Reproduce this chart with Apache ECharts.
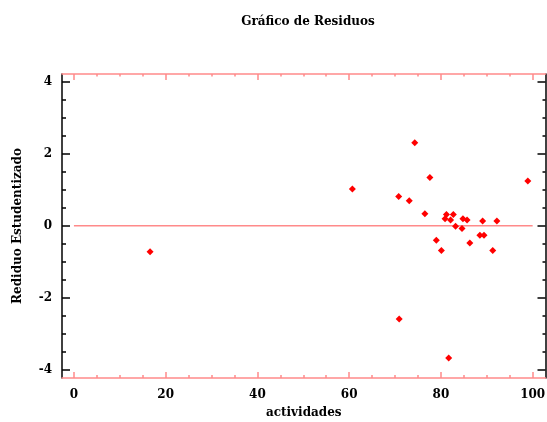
<!DOCTYPE html>
<html>
<head>
    <meta charset="UTF-8">
    <title>Gráfico de Residuos</title>
    <script src="https://cdn.jsdelivr.net/npm/echarts@6/dist/echarts.min.js"></script>
    <style>
        html, body { margin: 0; padding: 0; background: #fff; }
        #chart { width: 547px; height: 422px; }
    </style>
</head>
<body>
<div id="chart"></div>
<script>
    // datos
    var actividades = [60.7, 74.3, 77.6, 70.8, 73.1, 76.5, 81.2, 82.7, 80.9, 82.1, 84.8, 85.7, 89.1,
        92.2, 83.2, 84.6, 79.0, 88.5, 89.4, 86.3, 80.1, 91.3, 98.95, 70.9, 81.7, 16.6];
    var residuos = [1.02, 2.31, 1.34, 0.81, 0.69, 0.33, 0.31, 0.31, 0.19, 0.16, 0.19, 0.16, 0.13,
        0.13, -0.02, -0.08, -0.41, -0.27, -0.27, -0.48, -0.69, -0.69, 1.24, -2.60, -3.68, -0.73];

    var xLabels = [0, 20, 40, 60, 80, 100];
    var xMinor = [5, 10, 15, 25, 30, 35, 45, 50, 55, 65, 70, 75, 85, 90, 95];
    var yLabels = [-4, -2, 0, 2, 4];
    var yMinor = [-3.5, -3, -2.5, -1.5, -1, -0.5, 0.5, 1, 1.5, 2.5, 3, 3.5];
    var zeroLine = [0, 100];

    var pink = '#ff8a8a';
    var font = 'DejaVu Serif';

    var points = [];
    for (var i = 0; i < actividades.length; i++) {
        points.push([actividades[i], residuos[i]]);
    }

    function xAxisDef(pos, ticks, len, main) {
        return {
            type: 'value', position: pos, min: -2.6, max: 102.8,
            axisLine: { show: main, onZero: false, lineStyle: { color: pink, width: 1.5 } },
            axisTick: { customValues: ticks, inside: true, length: len, lineStyle: { color: pink, width: 1.5 } },
            axisLabel: (main && pos === 'bottom') ? {
                customValues: xLabels, margin: 11, color: '#000',
                fontFamily: font, fontWeight: 'bold', fontSize: 12
            } : { show: false },
            splitLine: { show: false },
            name: (main && pos === 'bottom') ? 'actividades' : '',
            nameLocation: 'middle', nameGap: 29,
            nameTextStyle: { color: '#000', fontFamily: font, fontWeight: 'bold', fontSize: 12 }
        };
    }

    function yAxisDef(pos, ticks, len, main) {
        return {
            type: 'value', position: pos, min: -4.24, max: 4.22,
            axisLine: { show: main, onZero: false, lineStyle: { color: '#000', width: 1.5 } },
            axisTick: { customValues: ticks, inside: true, length: len, lineStyle: { color: '#000', width: 1.5 } },
            axisLabel: (main && pos === 'left') ? {
                customValues: yLabels, margin: 10, color: '#000',
                fontFamily: font, fontWeight: 'bold', fontSize: 12
            } : { show: false },
            splitLine: { show: false },
            name: (main && pos === 'left') ? 'Rediduo Estudentizado' : '',
            nameLocation: 'middle', nameGap: 38,
            nameTextStyle: { color: '#000', fontFamily: font, fontWeight: 'bold', fontSize: 12 }
        };
    }

    var myChart = echarts.init(document.getElementById('chart'));
    var option = {
        backgroundColor: '#fff',
        animation: false,
        title: {
            text: 'Gráfico de Residuos',
            left: 303, top: 11, textAlign: 'center',
            textStyle: { fontFamily: font, fontWeight: 'bold', fontSize: 12, color: '#000' }
        },
        grid: { left: 62, right: 1.5, top: 74, bottom: 44, outerBoundsMode: 'none' },
        xAxis: [
            xAxisDef('bottom', xLabels, 6, true),
            xAxisDef('bottom', xMinor, 3, false),
            xAxisDef('top', xLabels, 6, true),
            xAxisDef('top', xMinor, 2.5, false)
        ],
        yAxis: [
            yAxisDef('left', yLabels, 8, true),
            yAxisDef('left', yMinor, 4, false),
            yAxisDef('right', yLabels, 8, true),
            yAxisDef('right', yMinor, 3, false)
        ],
        series: [
            {
                // linea de referencia en cero
                type: 'line',
                xAxisIndex: 0,
                yAxisIndex: 0,
                silent: true,
                symbol: 'none',
                lineStyle: { color: pink, width: 1.5 },
                data: [[zeroLine[0], 0], [zeroLine[1], 0]],
                z: 1
            },
            {
                type: 'scatter',
                xAxisIndex: 0,
                yAxisIndex: 0,
                symbol: 'diamond',
                symbolSize: 7,
                itemStyle: { color: '#ff0000', opacity: 1 },
                data: points,
                z: 2
            }
        ]
    };
    myChart.setOption(option);
</script>
</body>
</html>
